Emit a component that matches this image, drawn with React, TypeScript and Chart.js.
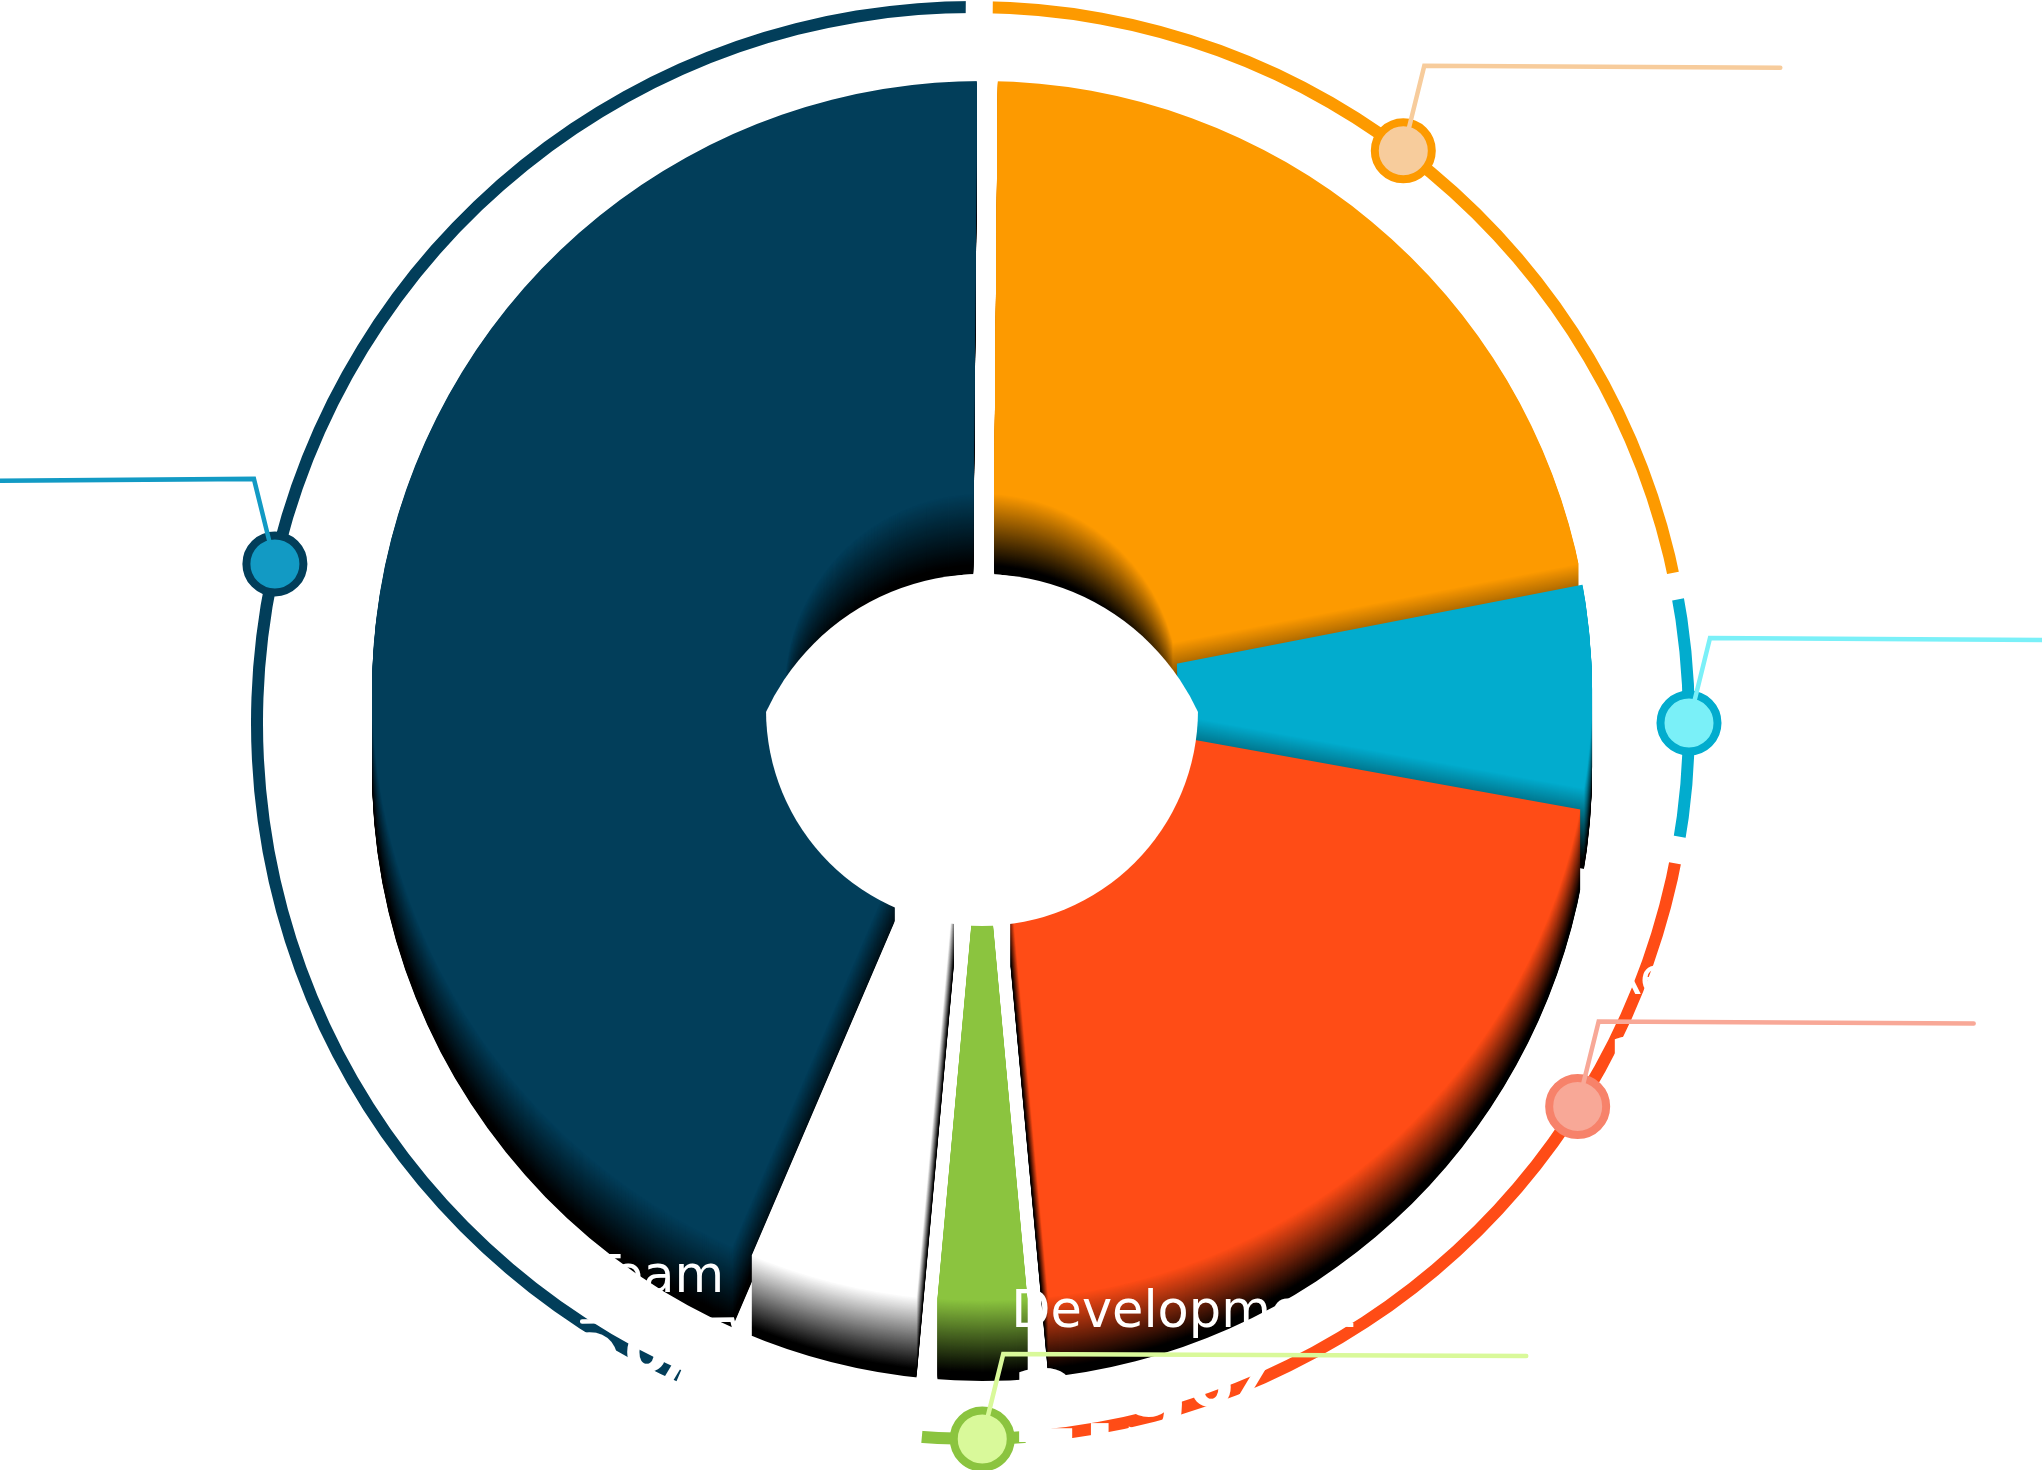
import React, { useEffect, useRef } from 'react';
import { Chart, registerables } from 'chart.js';

Chart.register(...registerables);

const W = 2042;
const H = 1470;

// ---------------- data ----------------
const categories = ['Marketing', 'Sales', 'Research', 'Development', 'Team', 'Operations'];
const shares = [21.8, 5.9, 20.7, 2.9, 5.0, 43.7];
const sliceColors = ['#fd9a00', '#02acce', '#ff4c16', '#8bc43f', '#ffffff', '#023e5a'];
const markerStrokes = ['#fd9a00', '#02acce', '#f7826a', '#8bc43f', '#ffffff', '#023e5a'];
const markerFills = ['#f7cc9c', '#7af0f8', '#f8a897', '#d9f99a', '#ffffff', '#129ac4'];

// ---------------- layout (not data) ----------------
const ROTATION = 0.5;
const DONUT = { cx: 982, cy: 691, r: 610, rin: 197, depth: 80, gap: 21, holeDrop: 19, holeFlare: 22 };
const RING = { cx: 973, cy: 723, r: 716, width: 12, gap: 27 };
const MARKER_SHIFT_DEG = [-2.8, 0.4, -15.1, -0.7, 3.7, 1.0];
const LEADER_LEN = [356, 332, 375, 523, 150, 258];
const FONT = '"DejaVu Sans", "Noto Sans", sans-serif';

function rgbOf(hex: string) {
  const n = parseInt(hex.slice(1), 16);
  return [(n >> 16) & 255, (n >> 8) & 255, n & 255];
}
function towardBlack(hex: string, t: number) {
  const [r, g, b] = rgbOf(hex);
  const k = 1 - Math.min(1, Math.max(0, t));
  return `rgb(${Math.round(r * k)},${Math.round(g * k)},${Math.round(b * k)})`;
}

function clipOutGaps(ctx: CanvasRenderingContext2D, x: number, y: number, angles: number[], gap: number, r0: number, r1: number) {
  ctx.beginPath();
  ctx.rect(-10000, -10000, 20000, 20000);
  const h = gap / 2;
  for (const a of angles) {
    const c = Math.cos(a);
    const s = Math.sin(a);
    const nx = -s * h;
    const ny = c * h;
    const ax = x + c * r0;
    const ay = y + s * r0;
    const bx = x + c * r1;
    const by = y + s * r1;
    ctx.moveTo(ax + nx, ay + ny);
    ctx.lineTo(bx + nx, by + ny);
    ctx.lineTo(bx - nx, by - ny);
    ctx.lineTo(ax - nx, ay - ny);
    ctx.closePath();
  }
  ctx.clip('evenodd');
}

const extrusionPlugin = {
  id: 'extrusion',
  beforeDatasetsDraw(chart: any) {
    const ctx: CanvasRenderingContext2D = chart.ctx;
    const arcs: any[] = chart.getDatasetMeta(0).data;
    if (!arcs.length) return;
    const colors = chart.data.datasets[0].backgroundColor as string[];
    const angles = arcs.map((a) => a.startAngle);
    const { x, y } = arcs[0];
    const D = DONUT.depth;
    for (let dy = D; dy >= 1; dy--) {
      const t = dy / (D * 0.9);
      ctx.save();
      ctx.translate(0, dy);
      clipOutGaps(ctx, x, y, angles, DONUT.gap, 120, 2000);
      arcs.forEach((arc, i) => {
        ctx.fillStyle = towardBlack(colors[i], t);
        ctx.beginPath();
        ctx.arc(arc.x, arc.y, arc.outerRadius, arc.startAngle, arc.endAngle);
        ctx.arc(arc.x, arc.y, arc.innerRadius, arc.endAngle, arc.startAngle, true);
        ctx.closePath();
        ctx.fill();
      });
      ctx.restore();
    }
    ctx.save();
    clipOutGaps(ctx, x, y, angles, DONUT.gap, 120, 2000);
  },
  afterDatasetsDraw(chart: any) {
    const ctx: CanvasRenderingContext2D = chart.ctx;
    ctx.restore();
    const arcs: any[] = chart.getDatasetMeta(0).data;
    if (!arcs.length) return;
    // see-through opening: top rim of the hole intersected with its (wider) bottom rim
    const { x, y, innerRadius } = arcs[0];
    const e = DONUT.holeDrop;
    const g = DONUT.holeFlare;
    ctx.save();
    ctx.beginPath();
    ctx.arc(x, y + e, innerRadius + e, 0, Math.PI * 2);
    ctx.clip();
    ctx.beginPath();
    ctx.arc(x, y + e + DONUT.depth + g, innerRadius + e + g, 0, Math.PI * 2);
    ctx.fillStyle = '#ffffff';
    ctx.fill();
    ctx.restore();
  },
};

const ringPlugin = {
  id: 'ringLabels',
  beforeDatasetsDraw(chart: any) {
    const ctx: CanvasRenderingContext2D = chart.ctx;
    const arcs: any[] = chart.getDatasetMeta(0).data;
    ctx.save();
    if (arcs.length) {
      clipOutGaps(ctx, arcs[0].x, arcs[0].y, arcs.map((a) => a.startAngle), RING.gap, 400, 2000);
    }
  },
  afterDatasetsDraw(chart: any) {
    const ctx: CanvasRenderingContext2D = chart.ctx;
    ctx.restore();
    const arcs: any[] = chart.getDatasetMeta(0).data;
    const values: number[] = chart.data.datasets[0].data;
    const total = values.reduce((s, v) => s + v, 0);
    const items = arcs.map((arc, i) => {
      const mid = (arc.startAngle + arc.endAngle) / 2 + (MARKER_SHIFT_DEG[i] * Math.PI) / 180;
      const rr = (arc.innerRadius + arc.outerRadius) / 2;
      const mx = arc.x + Math.cos(mid) * rr;
      const my = arc.y + Math.sin(mid) * rr;
      const side = mx >= arc.x ? 1 : -1;
      const kx = mx + side * 21;
      const ky = my - 85;
      return { i, mx, my, side, kx, ky };
    });

    // labels (white text)
    ctx.save();
    ctx.fillStyle = '#ffffff';
    ctx.textBaseline = 'alphabetic';
    items.forEach(({ i, side, kx, ky }) => {
      ctx.textAlign = side > 0 ? 'left' : 'right';
      ctx.font = `51px ${FONT}`;
      ctx.fillText(String(chart.data.labels[i]), kx + side * 8, ky - 27);
      ctx.font = `bold 100px ${FONT}`;
      const pct = ((values[i] / total) * 100).toFixed(1) + '%';
      ctx.fillText(pct, kx + side * 8, ky + 88);
    });
    ctx.restore();

    // markers
    items.forEach(({ i, mx, my }) => {
      ctx.beginPath();
      ctx.arc(mx, my, 28.5, 0, Math.PI * 2);
      ctx.fillStyle = markerFills[i];
      ctx.fill();
      ctx.lineWidth = 8;
      ctx.strokeStyle = markerStrokes[i];
      ctx.stroke();
    });

    // leader lines
    items.forEach(({ i, mx, my, side, kx, ky }) => {
      const dx = kx - mx;
      const dy = ky - my;
      const len = Math.hypot(dx, dy);
      ctx.beginPath();
      ctx.moveTo(mx + (dx / len) * 24, my + (dy / len) * 24);
      ctx.lineTo(kx, ky);
      ctx.lineTo(kx + side * LEADER_LEN[i], ky + 2);
      ctx.lineWidth = 4.5;
      ctx.lineCap = 'round';
      ctx.lineJoin = 'miter';
      ctx.strokeStyle = markerFills[i];
      ctx.stroke();
    });
  },
};

export default function App() {
  const donutRef = useRef<HTMLCanvasElement>(null);
  const ringRef = useRef<HTMLCanvasElement>(null);

  useEffect(() => {
    const common = {
      responsive: false,
      maintainAspectRatio: false,
      animation: false as const,
      devicePixelRatio: 1,
      events: [] as any[],
      rotation: ROTATION,
      plugins: { legend: { display: false }, tooltip: { enabled: false } },
    };
    const donut = new Chart(donutRef.current as HTMLCanvasElement, {
      type: 'doughnut',
      data: {
        labels: categories,
        datasets: [
          {
            data: shares,
            backgroundColor: sliceColors,
            borderWidth: 0,
            hoverBorderWidth: 0,
            hoverOffset: 0,
            offset: 0,
            spacing: 0,
          },
        ],
      },
      options: {
        ...common,
        cutout: `${(DONUT.rin / DONUT.r) * 100}%`,
        layout: {
          padding: {
            left: DONUT.cx - DONUT.r,
            top: DONUT.cy - DONUT.r,
            right: W - DONUT.cx - DONUT.r,
            bottom: H - DONUT.cy - DONUT.r,
          },
        },
      } as any,
      plugins: [extrusionPlugin],
    });

    const ro = RING.r + RING.width / 2;
    const ri = RING.r - RING.width / 2;
    const ring = new Chart(ringRef.current as HTMLCanvasElement, {
      type: 'doughnut',
      data: {
        labels: categories,
        datasets: [
          {
            data: shares,
            backgroundColor: sliceColors,
            borderWidth: 0,
            hoverBorderWidth: 0,
            hoverOffset: 0,
            offset: 0,
            spacing: 0,
          },
        ],
      },
      options: {
        ...common,
        cutout: `${(ri / ro) * 100}%`,
        layout: {
          padding: {
            left: RING.cx - ro,
            top: RING.cy - ro,
            right: W - RING.cx - ro,
            bottom: H - RING.cy - ro,
          },
        },
      } as any,
      plugins: [ringPlugin],
    });

    return () => {
      donut.destroy();
      ring.destroy();
    };
  }, []);

  const canvasStyle: React.CSSProperties = { position: 'absolute', left: 0, top: 0, width: W, height: H };
  return (
    <div style={{ position: 'fixed', left: 0, top: 0, width: W, height: H, background: '#ffffff', overflow: 'hidden' }}>
      <canvas ref={donutRef} width={W} height={H} style={canvasStyle} />
      <canvas ref={ringRef} width={W} height={H} style={canvasStyle} />
    </div>
  );
}
